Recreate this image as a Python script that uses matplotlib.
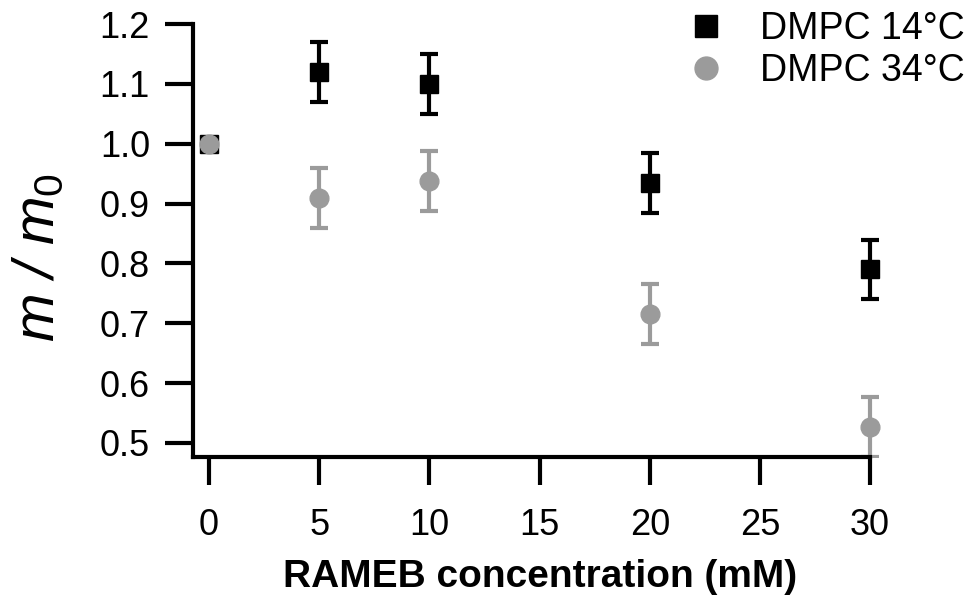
import numpy as np
import matplotlib
matplotlib.use("Agg")
import matplotlib.pyplot as plt
from matplotlib.lines import Line2D
from matplotlib.patches import Rectangle

plt.rcParams["font.family"] = ["Liberation Sans", "DejaVu Sans"]
plt.rcParams["mathtext.fontset"] = "custom"
plt.rcParams["mathtext.it"] = "Liberation Sans:italic"
plt.rcParams["mathtext.rm"] = "Liberation Sans"

# RAMEB concentration (mM)
conc = [0, 5, 10, 20, 30]

# m / m0, DMPC 14 C
m14 = [1.0, 1.12, 1.10, 0.935, 0.79]
err14 = [np.nan, 0.05, 0.05, 0.05, 0.05]

# m / m0, DMPC 34 C
m34 = [1.0, 0.91, 0.938, 0.715, 0.527]
err34 = [np.nan, 0.05, 0.05, 0.05, 0.05]

yticks = [0.5, 0.6, 0.7, 0.8, 0.9, 1.0, 1.1, 1.2]
xticks = [0, 5, 10, 15, 20, 25, 30]

black = "#000000"
grey = "#9b9b9b"

fig = plt.figure(figsize=(9.70, 6.01), dpi=100)
ax = fig.add_axes([0.199, 0.2396, 0.698, 0.7204])

eb14 = ax.errorbar(conc, m14, yerr=err14, fmt="s", color=black, ms=13.5,
                   elinewidth=3, capsize=6.5, capthick=3, zorder=3)
eb34 = ax.errorbar(conc, m34, yerr=err34, fmt="o", color=grey, ms=13.5,
                   mec=grey, elinewidth=3, capsize=6.5, capthick=3, zorder=4)

# clip only at the bottom (points at x=30 sit on the axes edge)
clip = Rectangle((-0.2, 0), 1.4, 1.3, transform=ax.transAxes,
                 facecolor="none", edgecolor="none")
ax.add_patch(clip)
for eb in (eb14, eb34):
    data_line, caps, bars = eb.lines
    for a in [data_line, *caps, *bars]:
        a.set_clip_path(clip)

ax.set_xlim(-0.73, 30)
ax.set_ylim(0.4766, 1.2)
ax.set_xticks(xticks)
ax.set_yticks(yticks)
ax.set_yticklabels(["%.1f" % v for v in yticks])

for s in ["top", "right"]:
    ax.spines[s].set_visible(False)
for s in ["left", "bottom"]:
    ax.spines[s].set_linewidth(3)
    ax.spines[s].set_zorder(5)
ax.spines["left"].set_capstyle("projecting")

ax.tick_params(axis="both", direction="out", length=20, width=3,
               labelsize=26)
ax.tick_params(axis="x", pad=17)
ax.tick_params(axis="y", pad=11)

ax.set_xlabel("RAMEB concentration (mM)", fontsize=28, fontweight="bold")
ax.xaxis.set_label_coords(0.513, -0.235)
ax.set_ylabel(r"$m$ / $m_{\mathit{0}}$", fontsize=42, fontstyle="italic")
ax.yaxis.set_label_coords(-0.188, 0.46)

handles = [
    Line2D([], [], ls="none", marker="s", color=black, ms=16.5),
    Line2D([], [], ls="none", marker="o", color=grey, ms=16.5),
]
fig.legend(handles, ["DMPC 14\u00b0C", "DMPC 34\u00b0C"], loc="upper right",
           bbox_to_anchor=(1.022, 1.025), frameon=False, fontsize=27,
           handlelength=1.0, handletextpad=0.95, labelspacing=0.15,
           borderpad=0.2)

fig.savefig("out.png", dpi=100)
